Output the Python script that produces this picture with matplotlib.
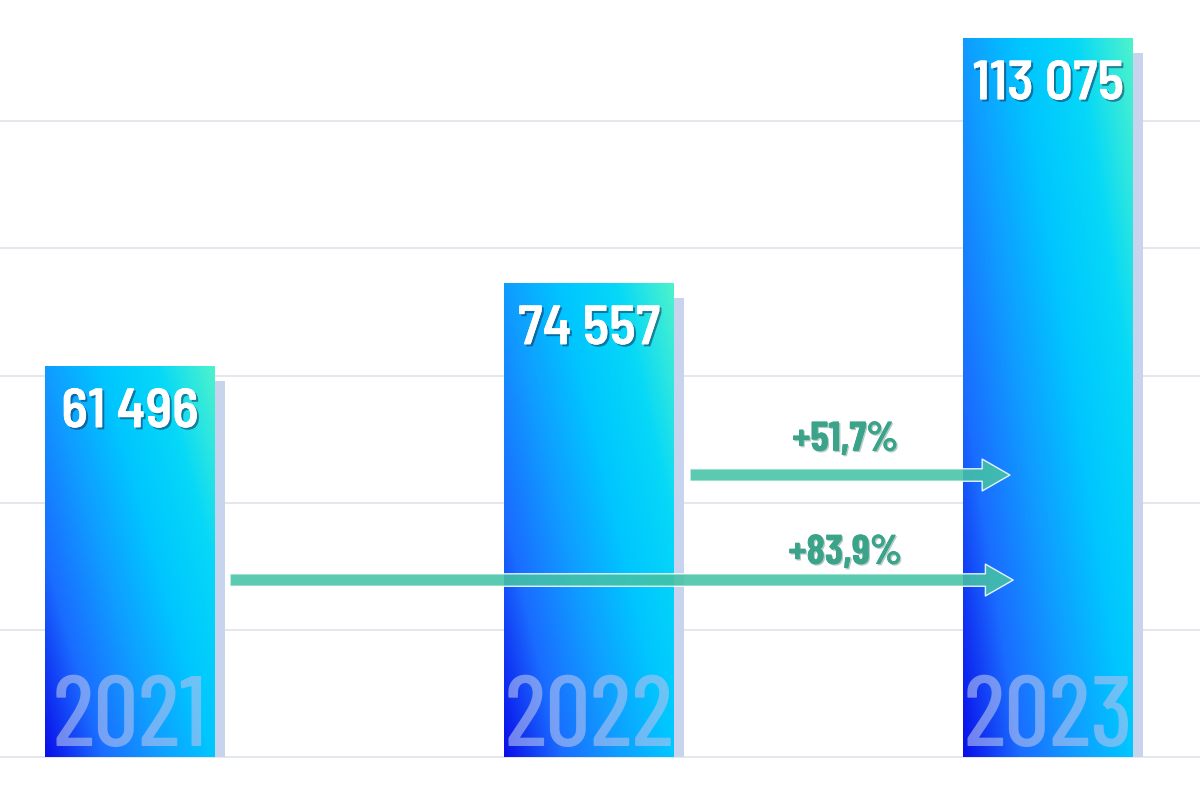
import numpy as np
import matplotlib
matplotlib.use("Agg")
import matplotlib.pyplot as plt
from matplotlib.colors import LinearSegmentedColormap
import matplotlib.patheffects as pe

years = ["2021", "2022", "2023"]
values = [61496, 74557, 113075]
value_labels = ["61 496", "74 557", "113 075"]
growth_labels = ["+51,7%", "+83,9%"]
grid_ticks = [0, 20000, 40000, 60000, 80000, 100000]

fam = ["Barlow Condensed", "DejaVu Sans"]
fam_semi = ["Barlow Semi Condensed", "DejaVu Sans"]

fig = plt.figure(figsize=(12, 8), dpi=100)
ax = fig.add_axes([0, 0, 1, 1])
ax.set_xlim(-0.283, 2.331)
ax.set_ylim(-6760, 119080)
ax.axis("off")

for t in grid_ticks:
    ax.axhline(t, color="#dfe4e9", lw=1.2, zorder=0)

x = np.arange(len(years))
w = 0.37

cmap = LinearSegmentedColormap.from_list("bar", [
    (0.0, "#0a10ea"), (0.2, "#1a6cff"), (0.4, "#109cff"),
    (0.6, "#00c6ff"), (0.8, "#06d8f8"), (1.0, "#4cf2cc")])

# soft shadow behind the bars
ax.bar(x + 0.022, np.array(values) - 2400, width=w, color="#c8d4ee", zorder=1)
bars = ax.bar(x, values, width=w, color="none", zorder=2)

xf, yf = np.meshgrid(np.linspace(0, 1, 60), np.linspace(0, 1, 200))
grad = 0.6 * xf + 0.4 * yf
for b in bars:
    x0, y0 = b.get_x(), b.get_y()
    im = ax.imshow(grad, cmap=cmap, origin="lower", aspect="auto", vmin=0, vmax=1,
                   extent=(x0, x0 + b.get_width(), y0, y0 + b.get_height()),
                   zorder=2, interpolation="bilinear")
    im.set_clip_path(b)

shadow = [pe.withSimplePatchShadow(offset=(1.5, -1.5), shadow_rgbFace="#10305a", alpha=0.55), pe.Normal()]

for xi, v, lab in zip(x, values, value_labels):
    ax.annotate(lab, (xi, v), xytext=(0, -34), textcoords="offset points",
                ha="center", va="center", color="white", fontsize=40,
                fontweight="semibold", family=fam_semi, zorder=5, path_effects=shadow)

for xi, yr in zip(x, years):
    ax.annotate(yr, (xi, 0), xytext=(0, -6), textcoords="offset points",
                ha="center", va="bottom", color="#b0c0f0", alpha=0.62,
                fontsize=72, fontweight="medium", family=fam, zorder=5)

# growth arrows
arrow_color = "#45c2a6"
arrows = [((1.22, 44360), (1.917, 44360)), ((0.218, 27840), (1.924, 27840))]
text_pos = [(1.558, 49900), (1.558, 32100)]
for (start, end), lab, tp in zip(arrows, growth_labels, text_pos):
    ax.annotate("", xy=end, xytext=start,
                arrowprops=dict(arrowstyle="simple,head_length=1.0,head_width=1.15,tail_width=0.45",
                                mutation_scale=20, fc=arrow_color, ec="white", lw=1.0,
                                alpha=0.88, shrinkA=0, shrinkB=0), zorder=4)
    ax.text(tp[0], tp[1], lab, ha="center", va="center", color="#3aa38a",
            fontsize=30, fontweight="bold", family=fam, zorder=5,
            path_effects=[pe.withSimplePatchShadow(offset=(1, -1), shadow_rgbFace="#2a6a5a", alpha=0.35), pe.Normal()])

fig.savefig("out.png", dpi=100)
